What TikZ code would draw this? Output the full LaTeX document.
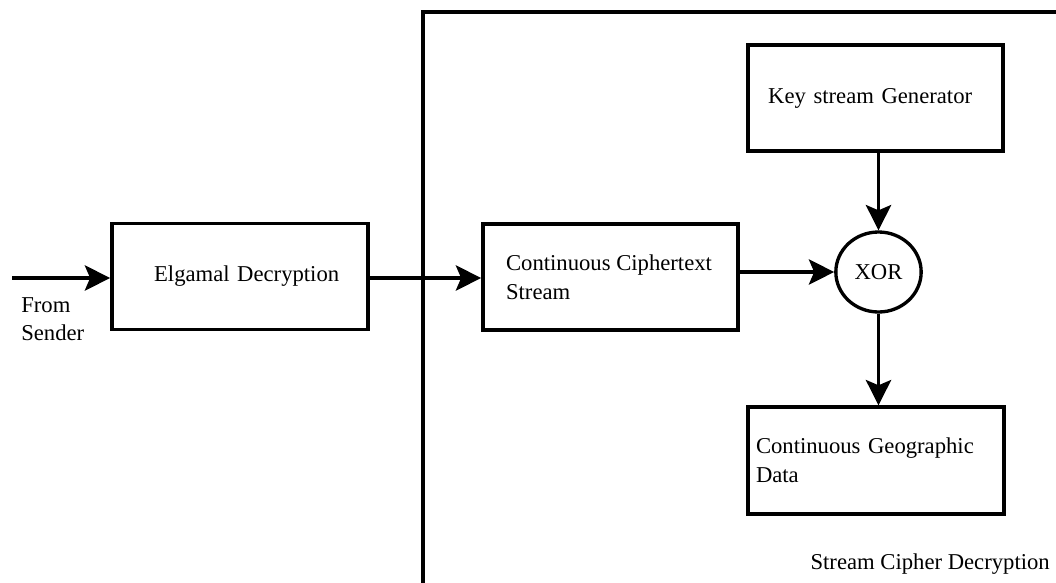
\documentclass[tikz,border=0pt]{standalone}
\usepackage{fontspec}
\setmainfont{Liberation Serif}
\usetikzlibrary{arrows.meta,shapes.geometric}
\begin{document}
\begin{tikzpicture}[x=0.75pt,y=-0.75pt,
  font=\fontsize{17}{21.5}\selectfont,
  blk/.style={draw,line width=2.8pt,minimum height=79.5pt,inner ysep=0pt},
  xorbox/.style={draw,ellipse,line width=2.5pt,minimum width=64pt,minimum height=60pt,inner sep=0pt},
  arr/.style={line width=2.5pt,-{Stealth[length=19pt,width=19pt,inset=4pt]}},
  frame/.style={line width=2.6pt},
  lbl/.style={inner sep=0pt,align=left}]
  \useasboundingbox (0,0) rectangle (1056,582);

  % outer frame of the stream cipher stage
  \coordinate (fbl) at (423,590);
  \coordinate (ftl) at (423,12);
  \coordinate (ftr) at (1060,12);
  \draw[frame] (fbl) -- (ftl) -- (ftr);

  % blocks
  \node[blk,minimum width=192pt,text width=192pt,inner xsep=0pt,align=center] (elg) at (240,276.5) {\hspace*{10pt}Elgamal Decryption};
  \node[blk,minimum width=191.25pt] (cc) at (610.5,277) {};
  \node[lbl,anchor=west] (cct) at ([xshift=18.5pt]cc.west) {Continuous Ciphertext\\Stream};
  \node[blk,inner xsep=0pt,text width=191.5pt,minimum height=79.5pt,align=center] (ksg) at (875.5,98) {\hspace*{-8pt}Key stream Generator};
  \node[blk,inner xsep=6pt,text width=180pt,minimum height=80pt,align=left] (cgd) at (876,460.5) {Continuous Geographic\\Data\\[-6pt]};
  \node[xorbox] (xor) at (878.5,272) {XOR};

  % labels
  \coordinate (src) at (12,278);
  \node[lbl,anchor=north west] (from) at (21,297) {From\\Sender};
  \node[lbl,anchor=base east] (scd) at (1050,569) {Stream Cipher Decryption};

  % connectors
  \draw[arr] (src) -- (elg.west |- src);
  \draw[arr] (elg.east |- src) -- (cc.west |- src);
  \draw[arr] (cc.east |- xor) -- (xor.west);
  \draw[arr] (xor |- ksg.south) -- (xor.north);
  \draw[arr] (xor.south) -- (xor |- cgd.north);
\end{tikzpicture}
\end{document}
